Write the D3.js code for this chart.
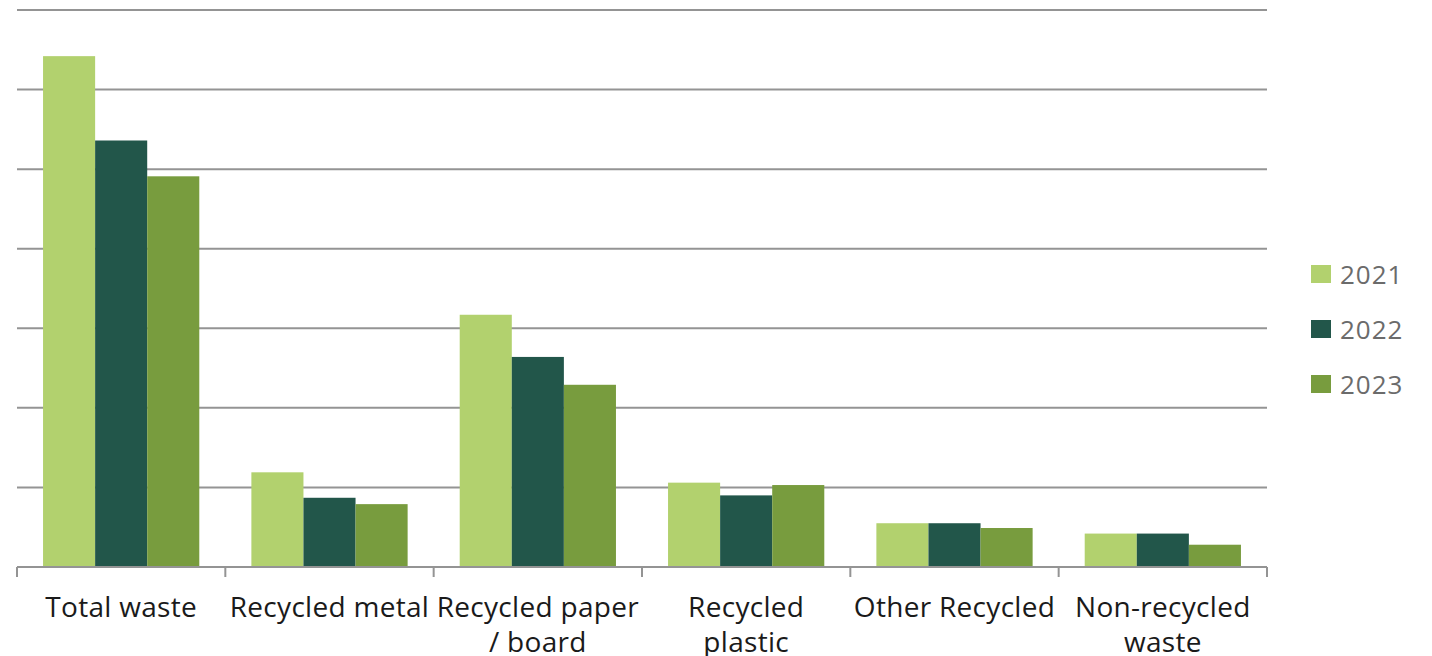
<!DOCTYPE html>
<html><head><meta charset="utf-8">
<script src="https://cdn.jsdelivr.net/npm/d3@7"></script>
<style>body{margin:0;background:#fff}svg{display:block}</style>
</head><body>
<svg id="c" width="1432" height="656"></svg>
<script>
const categories = [["Total waste"],["Recycled metal"],["Recycled paper","/ board"],["Recycled","plastic"],["Other Recycled"],["Non-recycled","waste"]];
const years = ["2021","2022","2023"];
const s2021 = [642,119,317,106,55,42];
const s2022 = [536,87,264,90,55,42];
const s2023 = [491,79,229,103,49,28];
const yTicks = [0,100,200,300,400,500,600,700];
const colors = ["#b2d16e","#22564a","#789c3e"];

const svg = d3.select("#c");
const m = {l:17, r:1267, t:10, b:567};
const x = d3.scaleBand().domain(d3.range(categories.length)).range([m.l,m.r]).paddingInner(0).paddingOuter(0);
const x1 = d3.scaleBand().domain(years).range([0,x.bandwidth()]).paddingInner(0).paddingOuter(0.5);
const y = d3.scaleLinear().domain([0,700]).range([m.b,m.t]);
const series = [s2021,s2022,s2023];

// gridlines
svg.append("g").selectAll("line").data(yTicks.slice(1)).join("line")
  .attr("x1",m.l).attr("x2",m.r).attr("y1",d=>y(d)).attr("y2",d=>y(d))
  .attr("stroke","#949494").attr("stroke-width",2);

// bars
years.forEach((yr,i)=>{
  svg.append("g").selectAll("rect").data(series[i]).join("rect")
    .attr("x",(d,j)=>x(j)+x1(yr)).attr("width",x1.bandwidth())
    .attr("y",d=>y(d)).attr("height",d=>y(0)-y(d))
    .attr("fill",colors[i]);
});

// x axis
const ax = svg.append("g");
ax.append("line").attr("x1",m.l).attr("x2",m.r).attr("y1",y(0)).attr("y2",y(0)).attr("stroke","#949494").attr("stroke-width",2);
const bounds = d3.range(categories.length+1).map(i=> i<categories.length ? x(i) : m.r);
ax.selectAll("line.t").data(bounds).join("line").attr("class","t")
  .attr("x1",d=>d).attr("x2",d=>d).attr("y1",y(0)).attr("y2",y(0)+10)
  .attr("stroke","#949494").attr("stroke-width",2);
ax.selectAll("text").data(categories).join("text")
  .attr("text-anchor","middle").attr("font-family","'Open Sans', sans-serif").attr("font-size",28).attr("letter-spacing",0.3).attr("fill","#1a1a1a")
  .each(function(d,i){
    const t=d3.select(this);
    d.forEach((ln,k)=>t.append("tspan").attr("x",x(i)+x.bandwidth()/2).attr("y",617+k*35).text(ln));
  });

// legend
const lg = svg.append("g");
years.forEach((yr,i)=>{
  const cy = 274 + i*55;
  lg.append("rect").attr("x",1311).attr("y",cy-9).attr("width",20).attr("height",18).attr("fill",colors[i]);
  lg.append("text").attr("x",1340).attr("y",cy+9.5).attr("font-family","'Open Sans', sans-serif").attr("font-size",26).attr("letter-spacing",1).attr("fill","#6b6b6b").text(yr);
});
</script>
</body></html>
